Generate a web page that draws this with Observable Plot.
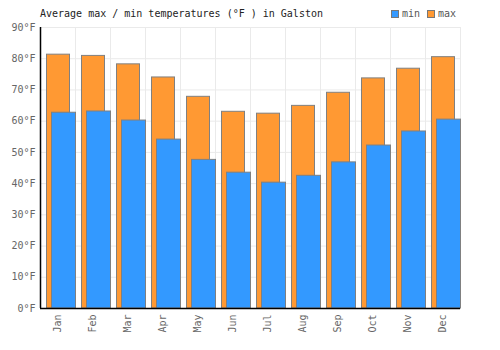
<!DOCTYPE html>
<html>
<head>
<meta charset="utf-8">
<script src="https://cdn.jsdelivr.net/npm/d3@7"></script>
<script src="https://cdn.jsdelivr.net/npm/@observablehq/plot@0.6"></script>
<style>
  body { margin: 0; background: #fff; }
  #wrap { position: relative; width: 500px; height: 350px; font-family: "DejaVu Sans Mono", monospace; }
  #title { position: absolute; left: 40px; top: 8px; font-size: 10px; color: #222; white-space: pre; }
  #legend { position: absolute; left: 391px; top: 8px; font-size: 10px; color: #555; display: flex; align-items: center; }
  .sw { display: inline-block; width: 6px; height: 6px; border: 1px solid #777; margin-right: 3px; }
  .item { display: flex; align-items: center; margin-right: 7px; }
</style>
</head>
<body>
<div id="wrap">
  <div id="title">Average max / min temperatures (°F ) in Galston</div>
  <div id="legend">
    <span class="item"><span class="sw" style="background:#3399ff"></span>min</span>
    <span class="item"><span class="sw" style="background:#ff9933"></span>max</span>
  </div>
</div>
<script>
const months = ["Jan","Feb","Mar","Apr","May","Jun","Jul","Aug","Sep","Oct","Nov","Dec"];
const maxTemps = [81.3, 80.9, 78.2, 74.0, 67.8, 63.0, 62.4, 64.9, 69.1, 73.7, 76.8, 80.5];
const minTemps = [62.7, 63.1, 60.2, 54.1, 47.6, 43.5, 40.3, 42.5, 46.8, 52.2, 56.7, 60.5];
const yTicks = [0,10,20,30,40,50,60,70,80,90];

const maxData = months.map((m,i) => ({month: m, value: maxTemps[i]}));
const minData = months.map((m,i) => ({month: m, value: minTemps[i]}));

const chart = Plot.plot({
  width: 500,
  height: 350,
  marginTop: 27,
  marginBottom: 42,
  marginLeft: 40,
  marginRight: 40,
  style: { fontFamily: "DejaVu Sans Mono, monospace", fontSize: "10px", color: "#666", background: "#fff" },
  x: { type: "band", domain: months, padding: 0, label: null },
  y: { domain: [0, 90], label: null },
  marks: [
    Plot.ruleY(yTicks, { stroke: "#eaeaea" }),
    Plot.ruleX(months, { stroke: "#eaeaea", dx: -17.5 }),
    Plot.ruleX([months[months.length-1]], { stroke: "#eaeaea", dx: 17.5 }),
    Plot.axisY({ ticks: yTicks, tickFormat: d => d + "°F", tickSize: 0, tickPadding: 5, fill: "#666" }),
    Plot.axisX({ tickSize: 0, tickPadding: 6, tickRotate: -90, fill: "#666" }),
    Plot.barY(maxData, { x: "month", y: "value", fill: "#ff9933", stroke: "#808080", strokeWidth: 1, insetLeft: 6.5, insetRight: 5.5 }),
    Plot.barY(minData, { x: "month", y: "value", fill: "#3399ff", stroke: "#808080", strokeWidth: 1, insetLeft: 11.5, insetRight: -0.5 }),
    Plot.ruleY([0], { stroke: "#000", strokeWidth: 1.5 }),
    Plot.ruleX([months[0]], { stroke: "#000", strokeWidth: 1.5, dx: -17.5 })
  ]
});
document.getElementById("wrap").prepend(chart);
</script>
</body>
</html>
